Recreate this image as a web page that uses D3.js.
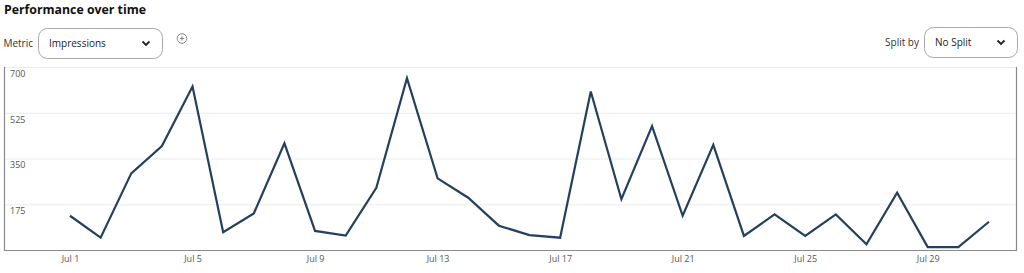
<!DOCTYPE html>
<html>
<head>
<meta charset="utf-8">
<script src="https://cdn.jsdelivr.net/npm/d3@7"></script>
<style>
  html, body { margin: 0; padding: 0; background: #fff; }
  svg { display: block; font-family: "Open Sans", "Noto Sans", sans-serif; }
</style>
</head>
<body>
<div id="chart"></div>
<script>
const width = 1024;
const height = 273;
const frame = { left: 4.5, right: 1016.5, top: 67, bottom: 250 };

// daily impressions, Jul 1 – Jul 31
const days = d3.range(1, 32);
const impressions = [
  131, 47, 293, 398, 625, 68, 140, 408, 73, 55,
  238, 657, 274, 200, 93, 57, 47, 606, 194, 474,
  131, 402, 54, 136, 54, 136, 22, 219, 11, 11,
  108,
];
const yTicks = [175, 350, 525, 700];
const xTickDays = [1, 5, 9, 13, 17, 21, 25, 29];

const data = days.map((d, i) => ({ date: new Date(2024, 6, d), value: impressions[i] }));

const svg = d3
  .select("#chart")
  .append("svg")
  .attr("width", width)
  .attr("height", height);

// header
svg
  .append("text")
  .attr("x", 4)
  .attr("y", 13.5)
  .attr("fill", "#111")
  .attr("font-size", 12.3)
  .attr("font-weight", 700)
  .text("Performance over time");

function dropdown(label, labelEnd, boxX, boxW, value, y) {
  svg
    .append("text")
    .attr("x", labelEnd)
    .attr("y", y + 18.5)
    .attr("text-anchor", "end")
    .attr("fill", "#333")
    .attr("font-size", 10)
    .text(label);
  svg
    .append("rect")
    .attr("x", boxX + 0.5)
    .attr("y", y + 0.5)
    .attr("width", boxW)
    .attr("height", 30)
    .attr("rx", 9)
    .attr("fill", "#fff")
    .attr("stroke", "#a8a8a8");
  svg
    .append("text")
    .attr("x", boxX + 11)
    .attr("y", y + 18.5)
    .attr("fill", "#222")
    .attr("font-size", 10)
    .text(value);
  const cx = boxX + boxW - 16;
  svg
    .append("path")
    .attr("d", `M${cx - 3.5},${y + 13.5} L${cx},${y + 17} L${cx + 3.5},${y + 13.5}`)
    .attr("fill", "none")
    .attr("stroke", "#222")
    .attr("stroke-width", 1.8);
}

dropdown("Metric", 33, 38, 124, "Impressions", 28);
dropdown("Split by", 919, 924, 93, "No Split", 27);

// add metric icon
svg
  .append("circle")
  .attr("cx", 182)
  .attr("cy", 38.5)
  .attr("r", 4.8)
  .attr("fill", "none")
  .attr("stroke", "#777")
  .attr("stroke-width", 0.9);
svg
  .append("path")
  .attr("d", "M179.8,38.5 H184.2 M182,36.3 V40.7")
  .attr("stroke", "#777")
  .attr("stroke-width", 0.9);

const x = d3
  .scaleTime()
  .domain(d3.extent(data, (d) => d.date))
  .range([70, 989]);

const y = d3.scaleLinear().domain([0, 700]).range([frame.bottom, frame.top]);

// grid + y labels
const yAxis = svg
  .append("g")
  .attr("transform", `translate(${frame.left},0)`)
  .call(d3.axisRight(y).tickValues(yTicks).tickSize(frame.right - frame.left));
yAxis.select(".domain").remove();
yAxis.selectAll(".tick line").attr("stroke", "#ececec");
yAxis
  .selectAll(".tick text")
  .attr("x", 5.5)
  .attr("dy", "1.05em")
  .attr("fill", "#555")
  .attr("font-size", 9)
  .attr("font-family", "'Open Sans', sans-serif");

// x axis labels
const xAxis = svg
  .append("g")
  .attr("transform", `translate(0,${frame.bottom})`)
  .call(
    d3
      .axisBottom(x)
      .tickValues(xTickDays.map((d) => new Date(2024, 6, d)))
      .tickSize(0)
      .tickPadding(6)
      .tickFormat(d3.timeFormat("%b %-d"))
  );
xAxis.select(".domain").remove();
xAxis
  .selectAll(".tick text")
  .attr("fill", "#555")
  .attr("font-size", 9)
  .attr("font-family", "'Open Sans', sans-serif");

// frame lines
svg
  .append("path")
  .attr(
    "d",
    `M${frame.left},${frame.top} V${frame.bottom + 0.5} H${frame.right} V${frame.top}`
  )
  .attr("fill", "none")
  .attr("stroke", "#8a8a8a")
  .attr("stroke-width", 1.2);

// series line
svg
  .append("path")
  .datum(data)
  .attr("fill", "none")
  .attr("stroke", "#23415f")
  .attr("stroke-width", 2.2)
  .attr("stroke-linejoin", "miter")
  .attr(
    "d",
    d3
      .line()
      .x((d) => x(d.date))
      .y((d) => y(d.value))
  );
</script>
</body>
</html>
